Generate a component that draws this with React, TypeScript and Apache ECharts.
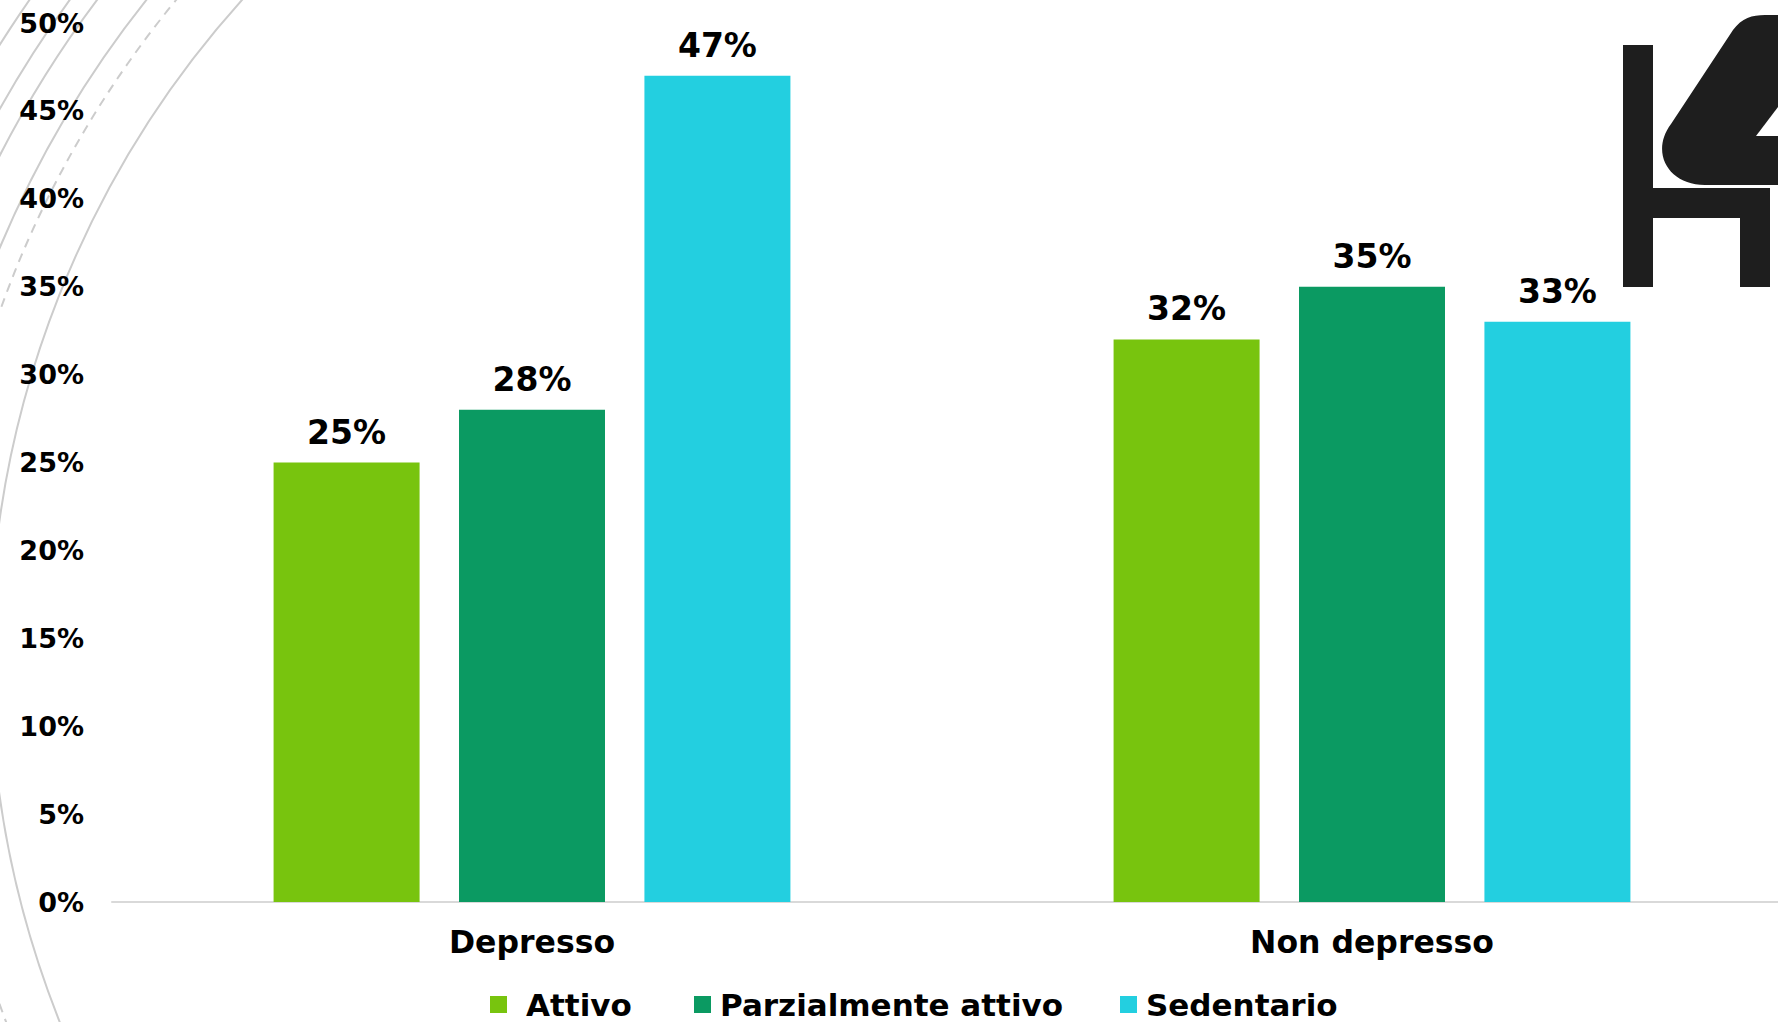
import React, { useEffect, useRef } from "react";
import * as echarts from "echarts";

const categories = ["Depresso", "Non depresso"];
const seriesNames = ["Attivo", "Parzialmente attivo", "Sedentario"];
const attivo = [25, 32];
const parzialmenteAttivo = [28, 35];
const sedentario = [47, 33];
const colors = ["#78C40E", "#0B9A62", "#23CFE0"];

const FONT = "DejaVu Sans";

let registered = false;
function registerLogo() {
  if (registered) return;
  registered = true;
  const d =
    "M 1800 185 L 1705 185 C 1668 185 1650 152 1671 124 L 1733 30 C 1742 18 1752 15 1765 15 L 1800 15 Z";
  echarts.graphic.registerShape("logo4", echarts.graphic.extendPath(d, {}) as any);
}

export default function App() {
  const ref = useRef<HTMLDivElement>(null);
  useEffect(() => {
    if (!ref.current) return;
    registerLogo();
    const chart = echarts.init(ref.current, undefined, { renderer: "svg" });
    const values = [attivo, parzialmenteAttivo, sedentario];
    const arcStroke = "#cccccc";
    const arcs = [
      { r: 985, dash: null },
      { r: 1035, dash: [9, 7] },
      { r: 1058, dash: null },
      { r: 1097, dash: null },
      { r: 1119, dash: null },
      { r: 1152, dash: null },
    ].map((a) => ({
      type: "arc",
      z: -10,
      silent: true,
      shape: {
        cx: 975,
        cy: 658,
        r: a.r,
        startAngle: Math.PI / 2,
        endAngle: (Math.PI * 3) / 2,
        clockwise: true,
      },
      style: {
        fill: "none",
        stroke: arcStroke,
        lineWidth: 2,
        lineDash: a.dash || undefined,
      },
    }));
    const legendLefts = [490, 694, 1120];
    const legendPads = [14, 4, 4];
    chart.setOption({
      animation: false,
      backgroundColor: "#ffffff",
      textStyle: { fontFamily: FONT },
      grid: {
        left: 112,
        top: 23,
        bottom: 120,
        width: 1680,
        outerBoundsMode: "none",
        containLabel: false,
      },
      legend: seriesNames.map((n, i) => ({
        data: [n],
        left: legendLefts[i],
        top: 989,
        padding: 0,
        itemWidth: 17,
        itemHeight: 17,
        icon: "rect",
        textStyle: {
          fontFamily: FONT,
          fontWeight: "bold",
          fontSize: 31,
          color: "#000",
          padding: [0, 0, 0, legendPads[i]],
        },
      })),
      xAxis: {
        type: "category",
        data: categories,
        axisTick: { show: false },
        axisLine: { lineStyle: { color: "#d9d9d9", width: 2 } },
        axisLabel: {
          color: "#000",
          fontWeight: "bold",
          fontSize: 31.5,
          fontFamily: FONT,
          margin: 24,
        },
      },
      yAxis: {
        type: "value",
        min: 0,
        max: 50,
        interval: 5,
        splitLine: { show: false },
        axisLine: { show: false },
        axisTick: { show: false },
        axisLabel: {
          formatter: "{value}%",
          color: "#000",
          fontWeight: "bold",
          fontSize: 27,
          fontFamily: FONT,
          margin: 28,
        },
      },
      series: seriesNames.map((n, i) => ({
        name: n,
        type: "bar",
        data: values[i],
        barWidth: 146,
        barGap: "27%",
        itemStyle: { color: colors[i] },
        label: {
          show: true,
          position: "top",
          distance: 14,
          formatter: "{c}%",
          color: "#000",
          fontWeight: "bold",
          fontSize: 33,
          fontFamily: FONT,
        },
      })),
      graphic: [
        ...arcs,
        { type: "rect", z: 10, shape: { x: 1623, y: 45, width: 30, height: 242 }, style: { fill: "#1e1e1e" } },
        { type: "rect", z: 10, shape: { x: 1653, y: 188, width: 117, height: 30 }, style: { fill: "#1e1e1e" } },
        { type: "rect", z: 10, shape: { x: 1740, y: 188, width: 30, height: 99 }, style: { fill: "#1e1e1e" } },
        { type: "logo4", z: 10, x: 0, y: 0, style: { fill: "#1e1e1e" } },
        {
          type: "polygon",
          z: 11,
          shape: { points: [[1756, 136], [1781, 103], [1781, 136]] },
          style: { fill: "#ffffff" },
        },
      ],
    } as any);
    return () => chart.dispose();
  }, []);
  return (
    <div
      ref={ref}
      style={{ position: "fixed", left: 0, top: 0, width: 1778, height: 1022 }}
    />
  );
}
